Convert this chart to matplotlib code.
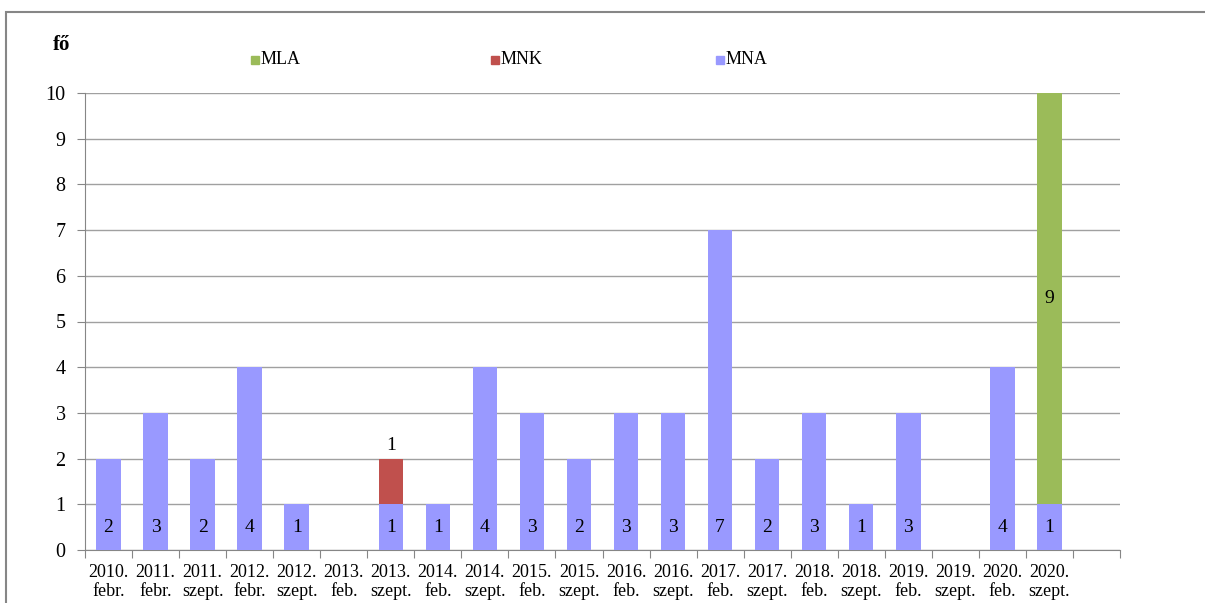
import matplotlib.pyplot as plt
import numpy as np
from matplotlib.patches import Rectangle

plt.rcParams['font.family'] = ['Liberation Serif', 'DejaVu Serif']

years = ["2010.", "2011.", "2011.", "2012.", "2012.", "2013.", "2013.", "2014.", "2014.",
         "2015.", "2015.", "2016.", "2016.", "2017.", "2017.", "2018.", "2018.", "2019.",
         "2019.", "2020.", "2020."]
terms = ["febr.", "febr.", "szept.", "febr.", "szept.", "feb.", "szept.", "feb.", "szept.",
         "feb.", "szept.", "feb.", "szept.", "feb.", "szept.", "feb.", "szept.", "feb.",
         "szept.", "feb.", "szept."]
mna = [2, 3, 2, 4, 1, 0, 1, 1, 4, 3, 2, 3, 3, 7, 2, 3, 1, 3, 0, 4, 1]
mnk = [0, 0, 0, 0, 0, 0, 1, 0, 0, 0, 0, 0, 0, 0, 0, 0, 0, 0, 0, 0, 0]
mla = [0, 0, 0, 0, 0, 0, 0, 0, 0, 0, 0, 0, 0, 0, 0, 0, 0, 0, 0, 0, 9]

c_mna = '#9999FF'
c_mnk = '#C0504D'
c_mla = '#9BBB59'
grey = '#868686'

fig = plt.figure(figsize=(12.05, 6.03), dpi=100)
ax = fig.add_axes([85 / 1205, 53 / 603, 1035 / 1205, 457 / 603])

x = np.arange(len(mna))
mna_a = np.array(mna)
mnk_a = np.array(mnk)
mla_a = np.array(mla)
w = 0.52
ax.bar(x, mna_a, w, color=c_mna, zorder=3)
ax.bar(x, mnk_a, w, bottom=mna_a, color=c_mnk, zorder=3)
ax.bar(x, mla_a, w, bottom=mna_a + mnk_a, color=c_mla, zorder=3)

# data labels
for i, v in enumerate(mna):
    if v > 0:
        ax.text(i, 0.5, str(v), ha='center', va='center', fontsize=14, zorder=4)
for i, v in enumerate(mnk):
    if v > 0:
        ax.text(i, mna[i] + v + 0.1, str(v), ha='center', va='bottom', fontsize=14, zorder=4)
for i, v in enumerate(mla):
    if v > 0:
        ax.text(i, mna[i] + mnk[i] + v / 2, str(v), ha='center', va='center', fontsize=14, zorder=4)

ax.set_xlim(-0.5, 21.5)
ax.set_ylim(0, 10)
ax.set_yticks(range(0, 11))
ax.tick_params(axis='y', labelsize=14.5, length=6, color=grey, pad=8)
ax.yaxis.grid(True, color='#A0A0A0', linewidth=1, zorder=0)

ax.set_xticks(np.arange(-0.5, 22, 1))
ax.set_xticklabels([])
ax.set_xticks(x, minor=True)
ax.set_xticklabels([y + "\n" + t for y, t in zip(years, terms)], minor=True,
                   fontsize=13, linespacing=1.2)
ax.tick_params(axis='x', which='major', length=6, color=grey)
ax.tick_params(axis='x', which='minor', length=0, pad=10)

for s in ['top', 'right']:
    ax.spines[s].set_visible(False)
for s in ['left', 'bottom']:
    ax.spines[s].set_color(grey)

fig.text(62 / 1205, 1 - 45 / 603, "fő", fontsize=15, fontweight='bold', ha='center', va='center')

# legend
for xp, lab, c in [(255, "MLA", c_mla), (495, "MNK", c_mnk), (720, "MNA", c_mna)]:
    fig.patches.append(Rectangle((xp / 1205 - 4 / 1205, 1 - 64 / 603), 8 / 1205, 8 / 603,
                                 transform=fig.transFigure, color=c))
    fig.text((xp + 6) / 1205, 1 - 60 / 603, lab, fontsize=13, ha='left', va='center')

# outer chart frame
fig.patches.append(Rectangle((6 / 1205, -0.05), 1.1, 1 - 12 / 603 + 0.05,
                             transform=fig.transFigure, fill=False, edgecolor=grey, linewidth=1.5))

fig.savefig("out.png", dpi=100)
